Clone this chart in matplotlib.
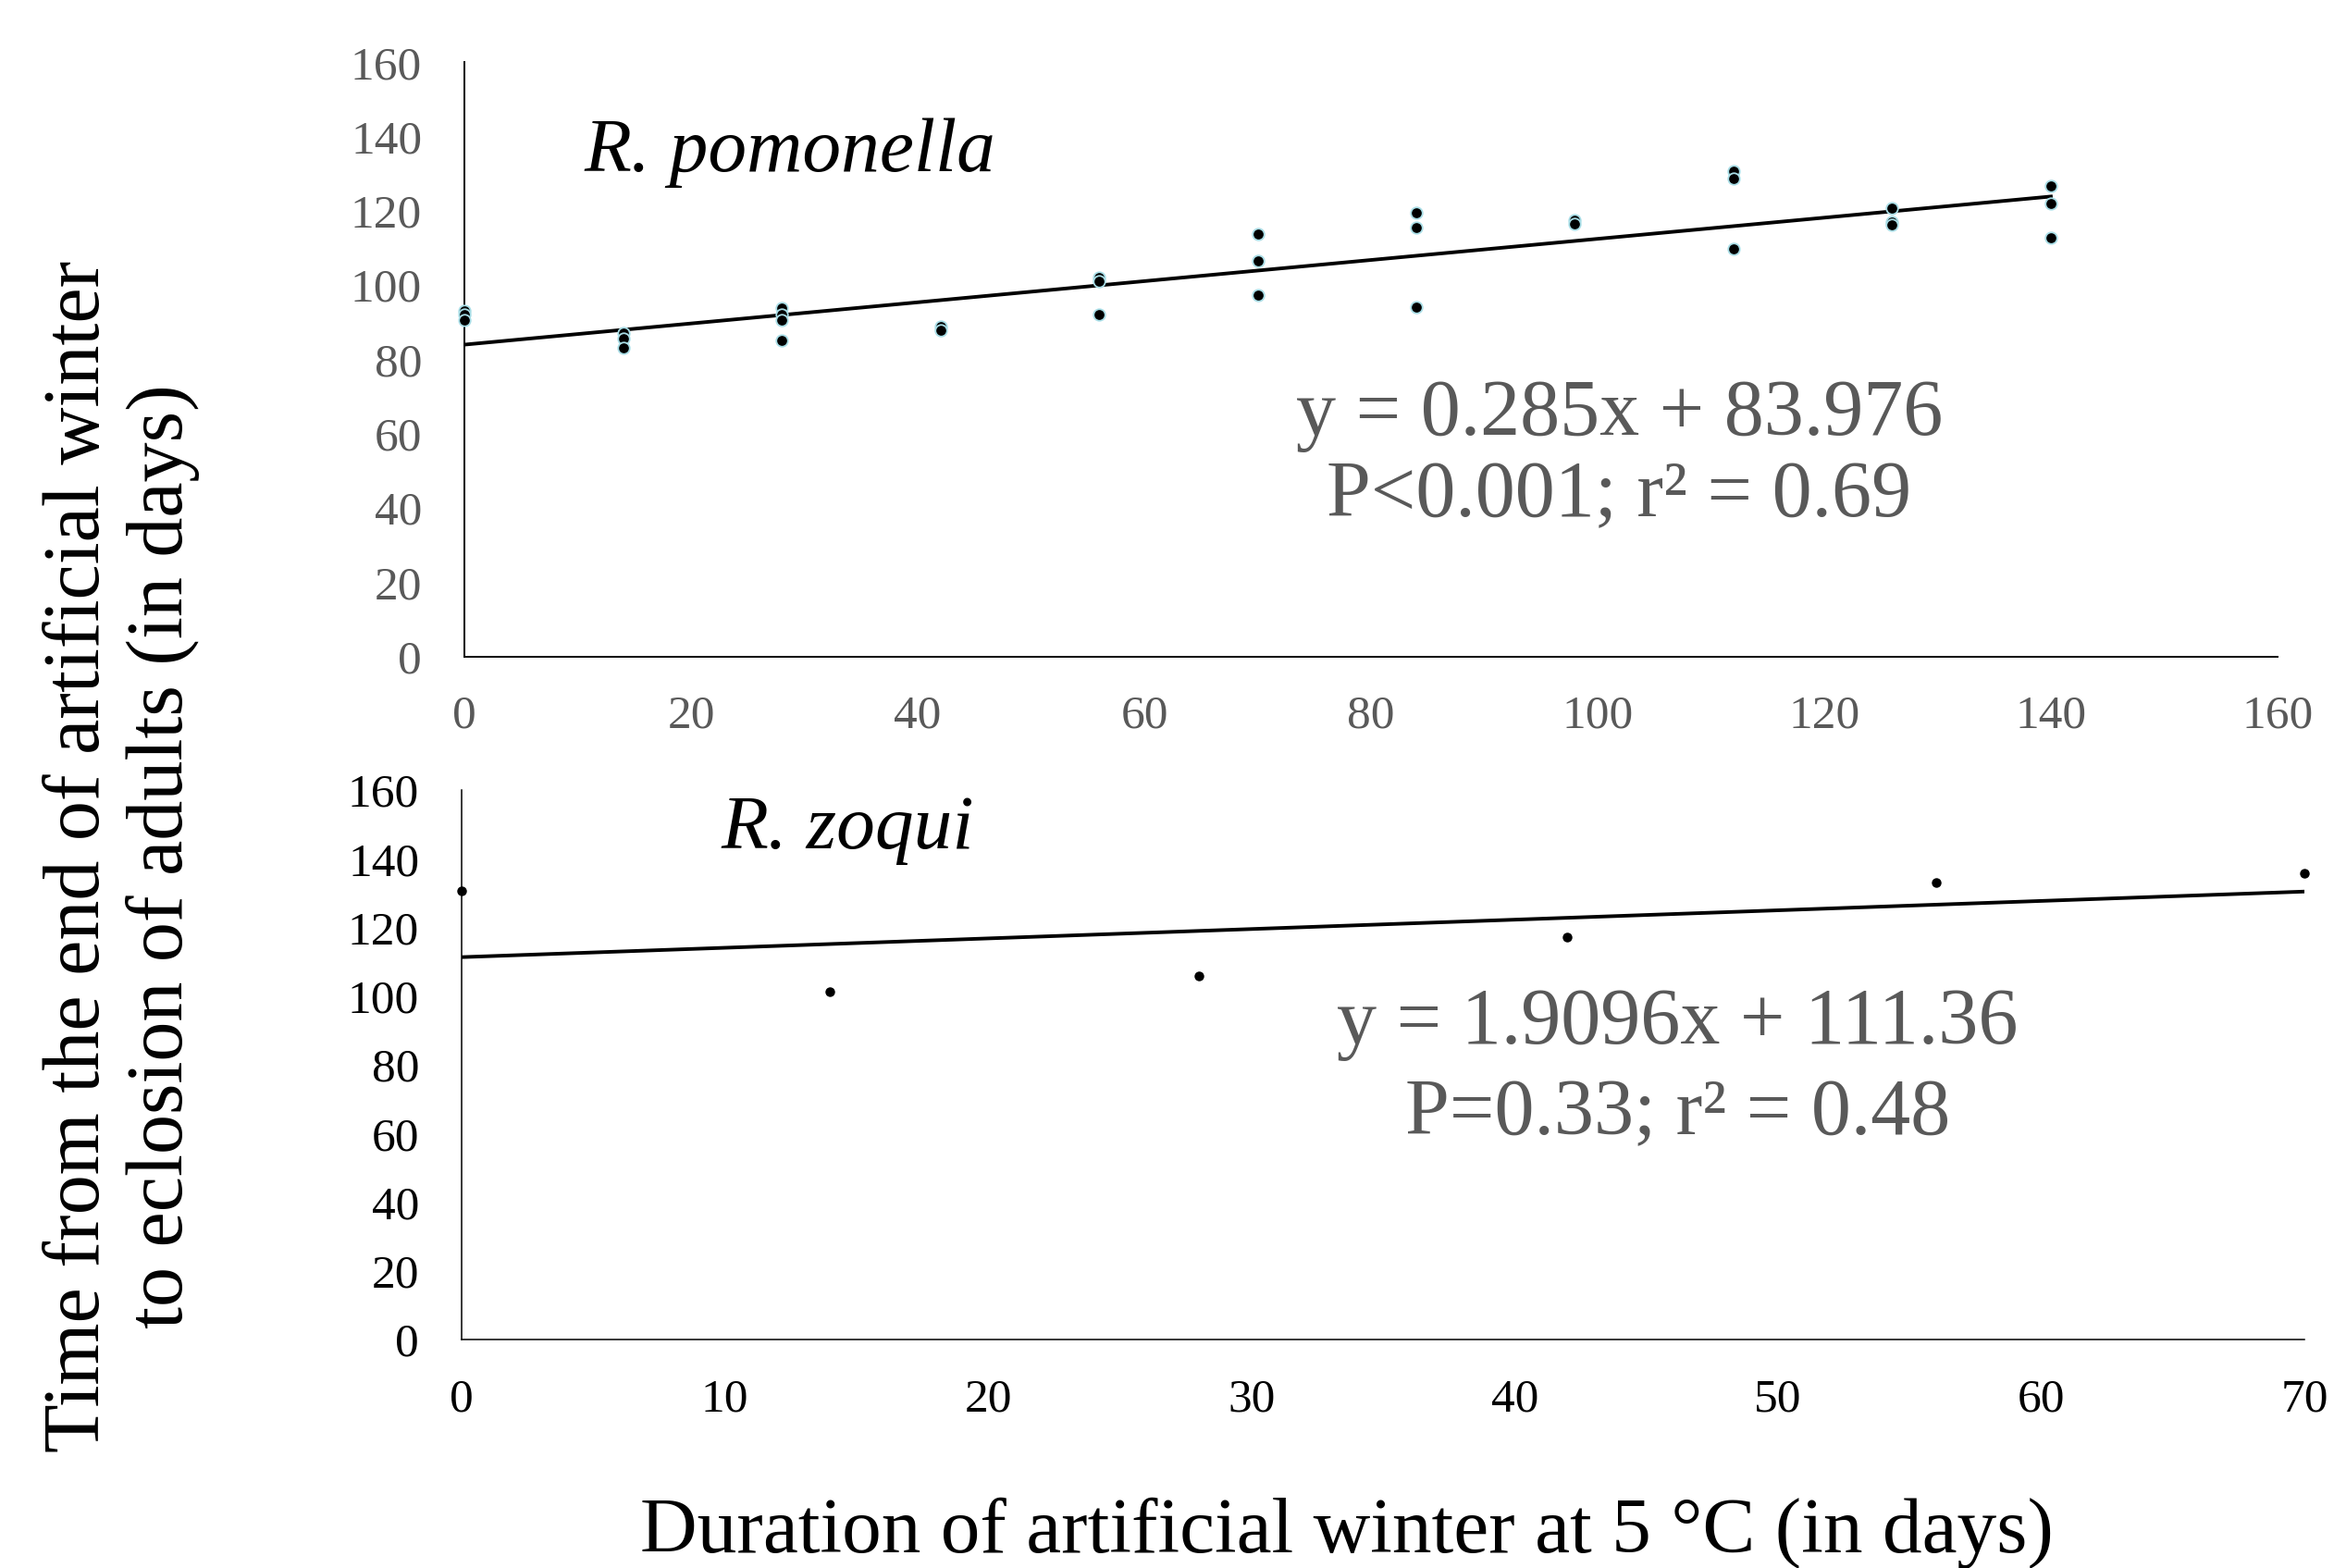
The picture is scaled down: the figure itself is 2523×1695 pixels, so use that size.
import numpy as np
import matplotlib
matplotlib.use('Agg')
import matplotlib.pyplot as plt

# R. pomonella: days of artificial winter vs days to eclosion
pom_days = [0, 0, 0, 14, 14, 14, 28, 28, 28, 28, 42, 42, 56, 56, 56,
            70, 70, 70, 84, 84, 84, 98, 98, 112, 112, 112,
            126, 126, 126, 140, 140, 140]
pom_time = [93, 92, 90.5, 87, 85.5, 83, 93.8, 92, 90.6, 85.2, 88.8, 87.9,
            102, 101, 92, 113.7, 106.6, 97.3, 119.5, 115.5, 94.2,
            117.5, 116.6, 130.7, 128.7, 109.7, 120.8, 117, 116.2,
            126.6, 122, 112.7]
pom_slope, pom_icpt = 0.285, 83.976

# R. zoqui
zoq_days = [0, 14, 28, 42, 56, 70]
zoq_time = [130.6, 101.4, 105.9, 117.3, 133.2, 135.7]
zoq_slope, zoq_icpt = 1.9096, 111.36   # fitted per week

yticks = [0, 20, 40, 60, 80, 100, 120, 140, 160]
pom_xticks = [0, 20, 40, 60, 80, 100, 120, 140, 160]
zoq_xticks = [0, 10, 20, 30, 40, 50, 60, 70]

plt.rcParams['font.family'] = ['Liberation Serif', 'DejaVu Serif']
gray = '#595959'

fig = plt.figure(figsize=(25.23, 16.95), dpi=100)
ax1 = fig.add_axes([0.1990, 0.5814, 0.7768, 0.3788])
ax2 = fig.add_axes([0.1978, 0.1457, 0.7895, 0.3504])

# top panel
x = np.array([0, 140])
ax1.plot(x, pom_slope * x + pom_icpt, color='black', lw=2.8, zorder=2)
ax1.plot(pom_days, pom_time, 'o', ms=9, mfc='black', mec='#a8dde6',
         mew=1.3, ls='none', zorder=3, clip_on=False)
ax1.set_xlim(0, 160)
ax1.set_ylim(0, 160)
ax1.set_xticks(pom_xticks)
ax1.set_yticks(yticks)
ax1.tick_params(length=0, labelsize=37, colors=gray, pad=30)
ax1.tick_params(axis='y', pad=33)
ax1.text(0.066, 0.817, 'R. pomonella', transform=ax1.transAxes,
         fontsize=60, style='italic', ha='left', va='baseline')
ax1.text(0.637, 0.373, 'y = 0.285x + 83.976', transform=ax1.transAxes,
         fontsize=62, color=gray, ha='center', va='baseline')
ax1.text(0.637, 0.236, 'P<0.001; r\u00b2 = 0.69', transform=ax1.transAxes,
         fontsize=62, color=gray, ha='center', va='baseline')

# bottom panel
x = np.array([0, 70])
ax2.plot(x, zoq_slope * x / 7 + zoq_icpt, color='black', lw=2.8, zorder=2)
ax2.plot(zoq_days, zoq_time, 'o', ms=6.5, color='black', ls='none',
         zorder=3, clip_on=False)
ax2.set_xlim(0, 70)
ax2.set_ylim(0, 160)
ax2.set_xticks(zoq_xticks)
ax2.set_yticks(yticks)
ax2.tick_params(length=0, labelsize=37, colors='black', pad=30)
ax2.tick_params(axis='y', pad=33)
ax2.text(0.1406, 0.894, 'R. zoqui', transform=ax2.transAxes,
         fontsize=60, style='italic', ha='left', va='baseline')
ax2.text(0.660, 0.539, 'y = 1.9096x + 111.36', transform=ax2.transAxes,
         fontsize=62, color=gray, ha='center', va='baseline')
ax2.text(0.660, 0.374, 'P=0.33; r\u00b2 = 0.48', transform=ax2.transAxes,
         fontsize=62, color=gray, ha='center', va='baseline')

for ax, lw in ((ax1, 1.4), (ax2, 1.1)):
    ax.spines['top'].set_visible(False)
    ax.spines['right'].set_visible(False)
    ax.spines['left'].set_linewidth(lw)
    ax.spines['bottom'].set_linewidth(lw)

fig.text(0.5771, 0.0225, 'Duration of artificial winter at 5 \u00b0C (in days)',
         fontsize=61.5, ha='center', va='center')
fig.text(0.052, 0.454,
         'Time from the end of artificial winter\nto eclosion of adults (in days)',
         fontsize=62, rotation=90, ha='center', va='center',
         multialignment='center', linespacing=1.15)

fig.savefig('out.png', dpi=100)
